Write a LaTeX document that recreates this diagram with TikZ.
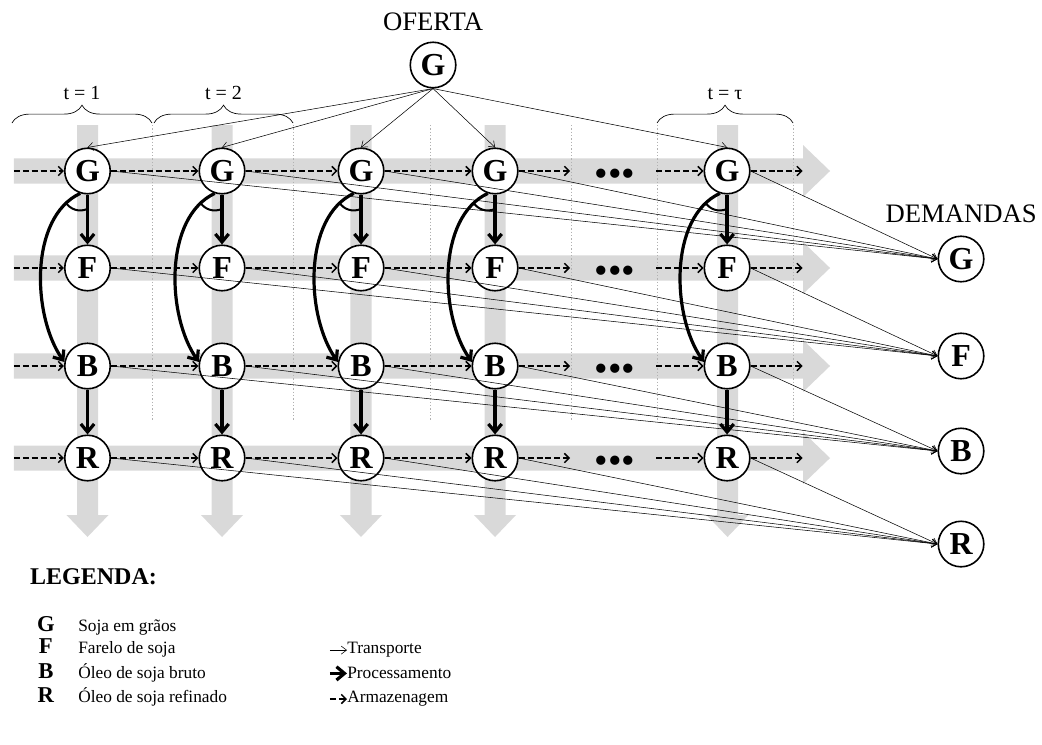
\documentclass[tikz,border=0pt]{standalone}
\usepackage{fontspec}
\setmainfont{Liberation Serif}
\usetikzlibrary{positioning,arrows.meta,decorations.pathreplacing}

\begin{document}
\begin{tikzpicture}[auto,node distance=1.3cm]
	\tikzstyle{node}=[circle,draw,line width=1.2pt,fill=white,minimum size=1.2cm,inner sep=0pt,font=\fontsize{24}{24}\selectfont\bfseries]
	\tikzstyle{faixa}=[fill=black!15]
	\tikzstyle{divisor}=[black!30,line width=0.5pt,dash pattern=on 1pt off 1.5pt]
	\tikzstyle{periodo}=[decorate,decoration={brace,amplitude=0.47cm},line width=0.5pt]
	\tikzstyle{armaz}=[line width=1.1pt,dash pattern=on 4.5pt off 2.2pt,-{Straight Barb[length=3.5pt,width=7pt]}]
	\tikzstyle{proces}=[line width=2.4pt,-{Straight Barb[length=6pt,width=10pt]}]
	\tikzstyle{transp}=[line width=0.4pt,-{Straight Barb[length=4pt,width=6pt]}]
	\tikzstyle{titulo}=[font=\fontsize{20}{20}\selectfont]
	\tikzstyle{rotulo}=[font=\fontsize{15}{15}\selectfont]
	\tikzstyle{pontos}=[inner sep=0pt,yshift=-0.17cm,font=\fontsize{29}{29}\selectfont]
	\tikzstyle{legtexto}=[anchor=base west,inner sep=0pt,font=\fontsize{13}{13}\selectfont]
	\tikzstyle{legletra}=[anchor=base,inner sep=0pt,font=\fontsize{17}{17}\selectfont\bfseries]
	\useasboundingbox (0,0) rectangle (27.47,-19.64);
	% faixas cinza e divisores dos periodos
	\foreach \y in {-4.508,-7.065,-9.649,-12.075}
		\fill[faixa] (0.369,\y+0.33) -- (21.17,\y+0.33) -- (21.17,\y+0.685) -- (21.882,\y) -- (21.17,\y-0.685) -- (21.17,\y-0.33) -- (0.369,\y-0.33) -- cycle;
	\foreach \x in {2.307,5.853,9.517,13.05,19.18}
		\fill[faixa] (\x-0.277,-3.296) -- (\x+0.277,-3.296) -- (\x+0.277,-13.577) -- (\x+0.554,-13.577) -- (\x,-14.157) -- (\x-0.554,-13.577) -- (\x-0.277,-13.577) -- cycle;
	\foreach \x in {4.007,7.725,11.337,15.054,17.321,20.907}
		\draw[divisor] (\x,-3.296) -- (\x,-11.073);
	\draw[periodo] (0.316,-3.243) -- node[rotulo,midway,above=0.5cm] {t = 1} (4.007,-3.243);
	\draw[periodo] (4.06,-3.243) -- node[rotulo,midway,above=0.5cm] {t = 2} (7.725,-3.243);
	\draw[periodo] (17.321,-3.243) -- node[rotulo,midway,above=0.5cm] {t = τ} (20.907,-3.243);
	% oferta
	\node[node] (of) at (11.416,-1.714) {G};
	\node[titulo, above=0.15cm of of] (oferta) {OFERTA};
	% periodo 1
	\node[node] (G1) at (2.307,-4.508) {G};
	\node[node, below=1.315cm of G1] (F1) {F};
	\node[node, below=1.342cm of F1] (B1) {B};
	\node[node, below=1.183cm of B1] (R1) {R};
	% periodo 2
	\node[node, right=2.304cm of G1] (G2) {G};
	\node[node, right=2.304cm of F1] (F2) {F};
	\node[node, right=2.304cm of B1] (B2) {B};
	\node[node, right=2.304cm of R1] (R2) {R};
	% periodo 3
	\node[node, right=2.423cm of G2] (G3) {G};
	\node[node, right=2.423cm of F2] (F3) {F};
	\node[node, right=2.423cm of B2] (B3) {B};
	\node[node, right=2.423cm of R2] (R3) {R};
	% periodo 4
	\node[node, right=2.291cm of G3] (G4) {G};
	\node[node, right=2.291cm of F3] (F4) {F};
	\node[node, right=2.291cm of B3] (B4) {B};
	\node[node, right=2.291cm of R3] (R4) {R};
	% periodo tau
	\node[node, right=4.874cm of G4] (G5) {G};
	\node[node, right=4.874cm of F4] (F5) {F};
	\node[node, right=4.874cm of B4] (B5) {B};
	\node[node, right=4.874cm of R4] (R5) {R};
	\node[pontos, right=2.0cm of G4] (pG) {•••};
	\node[pontos, right=2.0cm of F4] (pF) {•••};
	\node[pontos, right=2.0cm of B4] (pB) {•••};
	\node[pontos, right=2.0cm of R4] (pR) {•••};
	% demandas
	\node[node] (dG) at (25.336,-6.828) {G};
	\node[titulo, above=0.22cm of dG] (demandas) {DEMANDAS};
	\node[node, below=1.315cm of dG] (dF) {F};
	\node[node, below=1.263cm of dF] (dB) {B};
	\node[node, below=1.21cm of dB] (dR) {R};
	% armazenagem
	\coordinate[left=1.32cm of G1] (iG);
	\coordinate[left=1.32cm of F1] (iF);
	\coordinate[left=1.32cm of B1] (iB);
	\coordinate[left=1.32cm of R1] (iR);
	\coordinate[right=1.356cm of G4] (aG);
	\coordinate[right=1.356cm of F4] (aF);
	\coordinate[right=1.356cm of B4] (aB);
	\coordinate[right=1.356cm of R4] (aR);
	\coordinate[left=1.24cm of G5] (bG);
	\coordinate[left=1.24cm of F5] (bF);
	\coordinate[left=1.24cm of B5] (bB);
	\coordinate[left=1.24cm of R5] (bR);
	\coordinate[right=1.37cm of G5] (oG);
	\coordinate[right=1.37cm of F5] (oF);
	\coordinate[right=1.37cm of B5] (oB);
	\coordinate[right=1.37cm of R5] (oR);
		\draw (iG) edge[armaz] (G1) (G1) edge[armaz] (G2) (G2) edge[armaz] (G3) (G3) edge[armaz] (G4) (G4) edge[armaz] (aG) (bG) edge[armaz] (G5) (G5) edge[armaz] (oG);
		\draw (iF) edge[armaz] (F1) (F1) edge[armaz] (F2) (F2) edge[armaz] (F3) (F3) edge[armaz] (F4) (F4) edge[armaz] (aF) (bF) edge[armaz] (F5) (F5) edge[armaz] (oF);
		\draw (iB) edge[armaz] (B1) (B1) edge[armaz] (B2) (B2) edge[armaz] (B3) (B3) edge[armaz] (B4) (B4) edge[armaz] (aB) (bB) edge[armaz] (B5) (B5) edge[armaz] (oB);
		\draw (iR) edge[armaz] (R1) (R1) edge[armaz] (R2) (R2) edge[armaz] (R3) (R3) edge[armaz] (R4) (R4) edge[armaz] (aR) (bR) edge[armaz] (R5) (R5) edge[armaz] (oR);
	% processamento
		\draw (G1) edge[proces] (F1) (B1) edge[proces] (R1);
		\draw (G1.252) edge[proces, out=205, in=125, looseness=0.85] (B1.170);
		\draw[line width=1.5pt] (G1.252) ++(210:0.45) arc[start angle=210, end angle=295, radius=0.45];
		\draw (G2) edge[proces] (F2) (B2) edge[proces] (R2);
		\draw (G2.252) edge[proces, out=205, in=125, looseness=0.85] (B2.170);
		\draw[line width=1.5pt] (G2.252) ++(210:0.45) arc[start angle=210, end angle=295, radius=0.45];
		\draw (G3) edge[proces] (F3) (B3) edge[proces] (R3);
		\draw (G3.252) edge[proces, out=205, in=125, looseness=0.85] (B3.170);
		\draw[line width=1.5pt] (G3.252) ++(210:0.45) arc[start angle=210, end angle=295, radius=0.45];
		\draw (G4) edge[proces] (F4) (B4) edge[proces] (R4);
		\draw (G4.252) edge[proces, out=205, in=125, looseness=0.85] (B4.170);
		\draw[line width=1.5pt] (G4.252) ++(210:0.45) arc[start angle=210, end angle=295, radius=0.45];
		\draw (G5) edge[proces] (F5) (B5) edge[proces] (R5);
		\draw (G5.252) edge[proces, out=205, in=125, looseness=0.85] (B5.170);
		\draw[line width=1.5pt] (G5.252) ++(210:0.45) arc[start angle=210, end angle=295, radius=0.45];
	% transporte
		\draw (of.south) edge[transp] (G1.north) (of.south) edge[transp] (G2.north) (of.south) edge[transp] (G3.north) (of.south) edge[transp] (G4.north) (of.south) edge[transp] (G5.north);
		\draw (G1.east) edge[transp] (dG.west) (G2.east) edge[transp] (dG.west) (G3.east) edge[transp] (dG.west) (G4.east) edge[transp] (dG.west) (G5.east) edge[transp] (dG.west);
		\draw (F1.east) edge[transp] (dF.west) (F2.east) edge[transp] (dF.west) (F3.east) edge[transp] (dF.west) (F4.east) edge[transp] (dF.west) (F5.east) edge[transp] (dF.west);
		\draw (B1.east) edge[transp] (dB.west) (B2.east) edge[transp] (dB.west) (B3.east) edge[transp] (dB.west) (B4.east) edge[transp] (dB.west) (B5.east) edge[transp] (dB.west);
		\draw (R1.east) edge[transp] (dR.west) (R2.east) edge[transp] (dR.west) (R3.east) edge[transp] (dR.west) (R4.east) edge[transp] (dR.west) (R5.east) edge[transp] (dR.west);
	% legenda
	\node[anchor=base west, inner sep=0pt, font=\fontsize{18}{18}\selectfont\bfseries] (legenda) at (0.79,-15.41) {LEGENDA:};
	\node[legletra] (lG) at (1.21,-16.66) {G};
	\node[legtexto] (tG) at (2.056,-16.66) {Soja em grãos};
	\node[legletra] (lF) at (1.21,-17.24) {F};
	\node[legtexto] (tF) at (2.056,-17.24) {Farelo de soja};
	\node[legletra] (lB) at (1.21,-17.9) {B};
	\node[legtexto] (tB) at (2.056,-17.9) {Óleo de soja bruto};
	\node[legletra] (lR) at (1.21,-18.53) {R};
	\node[legtexto] (tR) at (2.056,-18.53) {Óleo de soja refinado};
	\node[legtexto] (tT) at (9.148,-17.24) {Transporte};
	\node[legtexto] (tP) at (9.148,-17.9) {Processamento};
	\node[legtexto] (tA) at (9.148,-18.53) {Armazenagem};
	\coordinate[left=0.45cm of tT] (sT);
	\coordinate[left=0.45cm of tP] (sP);
	\coordinate[left=0.45cm of tA] (sA);
		\draw (sT) edge[transp] (tT.west);
		\draw (sP) edge[proces] (tP.west);
		\draw (sA) edge[armaz] (tA.west);
\end{tikzpicture}
\end{document}
